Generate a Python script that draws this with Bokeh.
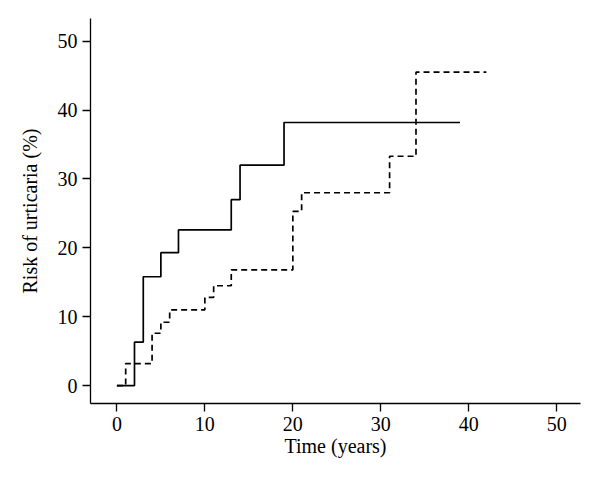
from bokeh.plotting import figure
from bokeh.models import FixedTicker, Range1d
from bokeh.embed import file_html
from bokeh.resources import INLINE

# Data
solid_t = [0, 2, 3, 5, 7, 13, 14, 19, 39]
solid_v = [0, 6.3, 15.8, 19.3, 22.6, 27.0, 32.0, 38.2, 38.2]
dashed_t = [0, 1, 4, 5, 6, 10, 11, 13, 20, 21, 31, 34, 42]
dashed_v = [0, 3.2, 7.6, 9.2, 11.0, 12.8, 14.5, 16.8, 25.3, 28.0, 33.3, 45.5, 45.5]
x_ticks = [0, 10, 20, 30, 40, 50]
y_ticks = [0, 10, 20, 30, 40, 50]

FONT = "Liberation Serif"

p = figure(width=592, height=478, output_backend="svg", toolbar_location=None,
           x_range=Range1d(-3, 52.7), y_range=Range1d(-2.6, 53.3),
           min_border_left=90, min_border_right=12, min_border_top=18, min_border_bottom=75)
p.outline_line_color = None
p.xgrid.grid_line_color = None
p.ygrid.grid_line_color = None
p.background_fill_color = "white"
p.border_fill_color = "white"

p.step(solid_t, solid_v, mode="after", line_color="black", line_width=1.7)
p.step(dashed_t, dashed_v, mode="after", line_color="black", line_width=1.7, line_dash="6 4")

for ax in (p.xaxis[0], p.yaxis[0]):
    ax.axis_line_color = "black"
    ax.axis_line_width = 1.3
    ax.major_tick_line_color = "black"
    ax.major_tick_line_width = 1.3
    ax.major_tick_in = 0
    ax.major_tick_out = 8
    ax.minor_tick_line_color = None
    ax.major_label_text_font = FONT
    ax.major_label_text_font_size = "20px"
    ax.major_label_text_color = "black"
    ax.axis_label_text_font = FONT
    ax.axis_label_text_font_size = "20px"
    ax.axis_label_text_font_style = "normal"
    ax.axis_label_text_color = "black"

p.xaxis.ticker = FixedTicker(ticks=x_ticks)
p.yaxis.ticker = FixedTicker(ticks=y_ticks)
p.xaxis.axis_label = "Time (years)"
p.yaxis.axis_label = "Risk of urticaria (%)"
p.xaxis.major_label_standoff = 5
p.yaxis.major_label_standoff = 5
p.xaxis.axis_label_standoff = 1
p.yaxis.axis_label_standoff = 14

open("out.html", "w").write(file_html(p, INLINE))
